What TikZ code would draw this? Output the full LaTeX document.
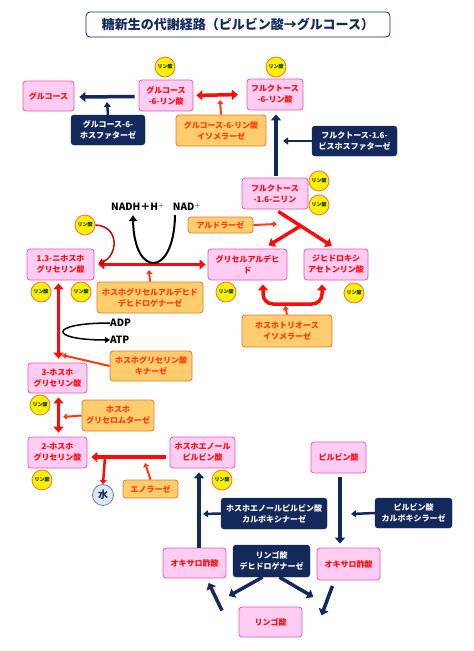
\documentclass[tikz,border=0pt]{standalone}
\usepackage{fontspec}
\setmainfont{Noto Sans CJK JP}
\usetikzlibrary{arrows.meta,calc}
\definecolor{rosa}{HTML}{FFCCF3}
\definecolor{bordorosa}{HTML}{E45AA8}
\definecolor{rosso}{HTML}{FF0A0A}
\definecolor{arancio}{HTML}{FFCD6B}
\definecolor{bordoarancio}{HTML}{E9733A}
\definecolor{testoarancio}{HTML}{FF3A10}
\definecolor{blu}{HTML}{13295B}
\definecolor{giallo}{HTML}{FFF000}
\definecolor{rossoscuro}{HTML}{C00A0A}
\definecolor{acqua}{HTML}{DDE8F6}
\tikzset{
  metab/.style={draw=bordorosa, fill=rosa, rounded corners=3pt, line width=0.8pt, text=rosso,
    font=\bfseries\fontsize{8}{11}\selectfont, align=center, inner sep=0pt},
  enz/.style={draw=bordoarancio, fill=arancio, rounded corners=3pt, line width=0.8pt, text=testoarancio,
    font=\bfseries\fontsize{8}{11}\selectfont, align=center, inner sep=0pt},
  enzblu/.style={draw=blu, fill=blu, rounded corners=3pt, text=white,
    font=\bfseries\fontsize{8}{11}\selectfont, align=center, inner sep=0pt},
  fosf/.style={circle, draw=bordoarancio, fill=giallo, line width=0.8pt, minimum size=20pt, inner sep=0pt,
    text=black!80!green, font=\bfseries\fontsize{5}{5}\selectfont},
  via/.style={draw=rosso, line width=3.5pt, -{Triangle[length=6pt,width=10pt]}},
  viadoppia/.style={via, {Triangle[length=6pt,width=10pt]}-{Triangle[length=6pt,width=10pt]}},
  enzfreccia/.style={draw=testoarancio, line width=2pt, -{Triangle[length=4pt,width=6pt]}},
  viablu/.style={draw=blu, line width=3.5pt, -{Triangle[length=6pt,width=10pt]}},
  enzbluf/.style={draw=blu, line width=2.5pt, -{Triangle[length=5pt,width=7pt]}},
  cofattore/.style={font=\bfseries\fontsize{10}{10}\selectfont, inner sep=0pt}
}
\begin{document}
\begin{tikzpicture}[x=1pt,y=-1pt]
  \useasboundingbox (0,0) rectangle (474,651);
  % titolo
  \node[draw=blu, line width=0.8pt, rounded corners=4pt, minimum width=304pt, minimum height=25pt, text=blu,
    font=\bfseries\fontsize{13}{13}\selectfont] (titolo) at (238,24.5) {糖新生の代謝経路（ピルビン酸→グルコース）};
  % metaboliti
  \node[metab, minimum width=51pt, minimum height=30pt] (glc) at (48.5,96) {グルコース};
  \node[metab, minimum width=54pt, minimum height=31pt] (g6p) at (166,95.5) {グルコース\\-6-リン酸};
  \node[metab, minimum width=56pt, minimum height=31pt] (f6p) at (275,94.5) {フルクトース\\-6-リン酸};
  \node[metab, minimum width=66pt, minimum height=31pt] (f16bp) at (275,193.5) {フルクトース\\-1.6-ニリン};
  \node[metab, minimum width=67pt, minimum height=31pt] (bpg) at (60.5,264.5) {1.3-ニホスホ\\グリセリン酸};
  \node[metab, minimum width=79pt, minimum height=31pt] (ga) at (247.5,264.5) {グリセルアルデヒ\\ド};
  \node[metab, minimum width=64pt, minimum height=31pt] (dhap) at (336,264.5) {ジヒドロキシ\\アセトンリン酸};
  \node[metab, minimum width=59pt, minimum height=30pt] (pg3) at (57.5,378) {3-ホスホ\\グリセリン酸};
  \node[metab, minimum width=59pt, minimum height=31pt] (pg2) at (57.5,452.5) {2-ホスホ\\グリセリン酸};
  \node[metab, minimum width=65pt, minimum height=31pt] (pep) at (202.5,452.5) {ホスホエノール\\ピルビン酸};
  \node[metab, minimum width=55pt, minimum height=31pt] (pir) at (338.5,457.5) {ピルビン酸};
  \node[metab, minimum width=63pt, minimum height=30pt] (oaa1) at (194.5,563) {オキサロ酢酸};
  \node[metab, minimum width=63pt, minimum height=32pt] (oaa2) at (348.5,564) {オキサロ酢酸};
  \node[metab, minimum width=63pt, minimum height=30pt] (mal) at (270.5,622) {リンゴ酸};
  % enzimi
  \node[enzblu, minimum width=74pt, minimum height=30pt] (g6pasi) at (108,130) {グルコース-6-\\ホスファターゼ};
  \node[enz, minimum width=90pt, minimum height=31pt] (isom) at (221,130.5) {グルコース-6-リン酸\\イソメラーゼ};
  \node[enzblu, minimum width=85pt, minimum height=30pt] (fbpasi) at (354.5,141) {フルクトース-1.6-\\ビスホスファターゼ};
  \node[enz, minimum width=65pt, minimum height=16pt] (aldo) at (220.5,225) {アルドラーゼ};
  \node[enz, minimum width=106pt, minimum height=31pt] (gapdh) at (150,297.5) {ホスホグリセルアルデヒド\\デヒドロゲナーゼ};
  \node[enz, minimum width=90pt, minimum height=32pt] (tpi) at (287,331) {ホスホトリオース\\イソメラーゼ};
  \node[enz, minimum width=82pt, minimum height=30pt] (pgk) at (151,366) {ホスホグリセリン酸\\キナーゼ};
  \node[enz, minimum width=72pt, minimum height=31pt] (pgm) at (118,415.5) {ホスホ\\グリセロムターゼ};
  \node[enz, minimum width=55pt, minimum height=18pt] (eno) at (150.5,489) {エノラーゼ};
  \node[enzblu, minimum width=106pt, minimum height=31pt] (pepck) at (274,513.5) {ホスホエノールピルビン酸\\カルボキシナーゼ};
  \node[enzblu, minimum width=77pt, minimum height=30pt] (pc) at (413.5,513) {ピルビン酸\\カルボキシラーゼ};
  \node[enzblu, minimum width=77pt, minimum height=32pt] (mdh) at (271.5,561) {リンゴ酸\\デヒドロゲナーゼ};
  % fosfati
  \node[fosf] (p1) at (165,67) {リン酸};
  \node[fosf] (p2) at (276,67) {リン酸};
  \node[fosf] (p3) at (319,181) {リン酸};
  \node[fosf] (p4) at (319,205) {リン酸};
  \node[fosf] (p5) at (85,225) {リン酸};
  \node[fosf] (p6) at (41,292) {リン酸};
  \node[fosf] (p7) at (81,292) {リン酸};
  \node[fosf] (p8) at (226,292) {リン酸};
  \node[fosf] (p9) at (354,293) {リン酸};
  \node[fosf] (p10) at (40,405) {リン酸};
  \node[fosf] (p11) at (42,480) {リン酸};
  \node[fosf] (p12) at (222,480) {リン酸};
  \node[circle, draw=blu!60, fill=acqua, line width=0.8pt, minimum size=21pt, inner sep=0pt, text=blu,
    font=\bfseries\fontsize{10}{10}\selectfont] (acqua) at (103,495) {水};
  % cofattori
  \node[cofattore] (nadh) at (138,207) {NADH＋H$^{+}$};
  \node[cofattore] (nad) at (187,207) {NAD$^{+}$};
  \node[cofattore, anchor=west] (adp) at (110,323) {ADP};
  \node[cofattore, anchor=west] (atp) at (110,340) {ATP};
  % punti liberi
  \coordinate (c1) at (107,102);
  \coordinate (c2) at (220,100);
  \coordinate (c3) at (277,224);
  \coordinate (c4) at (149,270);
  \coordinate (c5) at (285,306);
  \coordinate (c6) at (62,355);
  \coordinate (c7) at (63,417);
  \coordinate (c8) at (105,457);
  \coordinate (c9) at (145,463);
  \coordinate (c10) at (203,514);
  \coordinate (c11) at (351,514);
  % parte alta
  \draw[viablu] (g6p.west) ++(-4,1) -- ([xshift=5pt]glc.east |- 0,97); %glucosio-6-fosfatasi
  \draw[enzbluf] (g6pasi.north) -- (c1);
  \draw[viadoppia, shorten <=3pt, shorten >=3pt] (g6p.east) -- (f6p.east -| 241,95); %isomerasi
  \draw[enzfreccia] (isom.north) -- (c2);
  \draw[viablu, shorten <=2pt, shorten >=4pt] ([xshift=1pt]f16bp.north) -- ([xshift=1pt]f6p.south);
  \draw[enzbluf] (fbpasi.west) -- (283,141);
  % aldolasi
  \coordinate (y1) at ($(f16bp.south)!0.42!(dhap.north)$);
  \draw[via, shorten <=4pt, shorten >=5pt] (f16bp.south) -- (dhap.north);
  \draw[via, shorten >=6pt] (y1) -- ([xshift=16pt]ga.north);
  \draw[enzfreccia] (aldo.east) -- (c3);
  % GAPDH
  \draw[viadoppia, shorten <=4pt, shorten >=2pt] (bpg.east) -- (ga.west);
  \draw[enzfreccia] (gapdh.north) -- (c4);
  \draw[line width=2pt, -{Triangle[length=6pt,width=8pt]}] ([xshift=-12pt,yshift=-4pt]nad.south)
    .. controls (174,278) and (134,278) .. ([xshift=-5pt,yshift=-4pt]nadh.south);
  \draw[rossoscuro, line width=1.5pt, -{Triangle[length=5pt,width=7pt]}] (p5.east)
    .. controls (120,226) and (118,256) .. ([xshift=4pt,yshift=1pt]bpg.east);
  % TPI
  \draw[draw=rosso, line width=3.5pt, {Triangle[length=6pt,width=10pt]}-{Triangle[length=6pt,width=10pt]}]
    ([xshift=15.5pt,yshift=-4pt]ga.south) -- (263,294) to[out=-90,in=180] (273,304) -- (312,304)
    to[out=0,in=-90] (322,294) -- ([xshift=-14pt,yshift=-4pt]dhap.south);
  \draw[enzfreccia] (tpi.north) -- (c5);
  % fosfoglicerato chinasi
  \draw[viadoppia, shorten <=3pt, shorten >=4pt] ([xshift=-2pt]bpg.south) -- ([xshift=1pt]pg3.north);
  \draw[line width=1.5pt, -{Triangle[length=5pt,width=6pt]}] (adp.west) .. controls (48,323) and (48,340) .. (atp.west);
  \draw[enzfreccia] (pgk.west) -- (c6);
  % mutasi ed enolasi
  \draw[viadoppia, shorten <=4pt, shorten >=4pt] ([xshift=1pt]pg3.south) -- ([xshift=1pt]pg2.north);
  \draw[enzfreccia] (pgm.west) -- (c7);
  \draw[via, shorten <=4pt, shorten >=4pt] (pep.west |- 0,457) -- (pg2.east |- 0,457);
  \draw[draw=rosso, line width=2.5pt, -{Triangle[length=4pt,width=7pt]}] (c8) -- (acqua.north);
  \draw[enzfreccia] (eno.north) -- (c9);
  % parte bassa
  \draw[viablu, shorten >=4pt] ([xshift=4.5pt]oaa1.north) -- ([xshift=-3.5pt]pep.south);
  \draw[enzbluf] (pepck.west) -- (c10);
  \draw[viablu, shorten <=4pt, shorten >=4pt] ([xshift=1.5pt]pir.south) -- ([xshift=-8.5pt]oaa2.north);
  \draw[enzbluf] (pc.west) -- (c11);
  \draw[viablu, shorten <=6pt, shorten >=6pt] ([xshift=-14pt]oaa2.south) -- ([xshift=17pt]mal.east |- 0,621);
  \draw[viablu, shorten <=6pt, shorten >=5pt] ([xshift=-14pt]mal.west |- 0,616) -- ([xshift=12pt]oaa1.south);
  \draw[viablu, shorten >=2pt] ([xshift=-9pt]mdh.south) -- (227,597);
  \draw[viablu, shorten >=2pt] ([xshift=8pt]mdh.south) -- (315,598);
\end{tikzpicture}
\end{document}
